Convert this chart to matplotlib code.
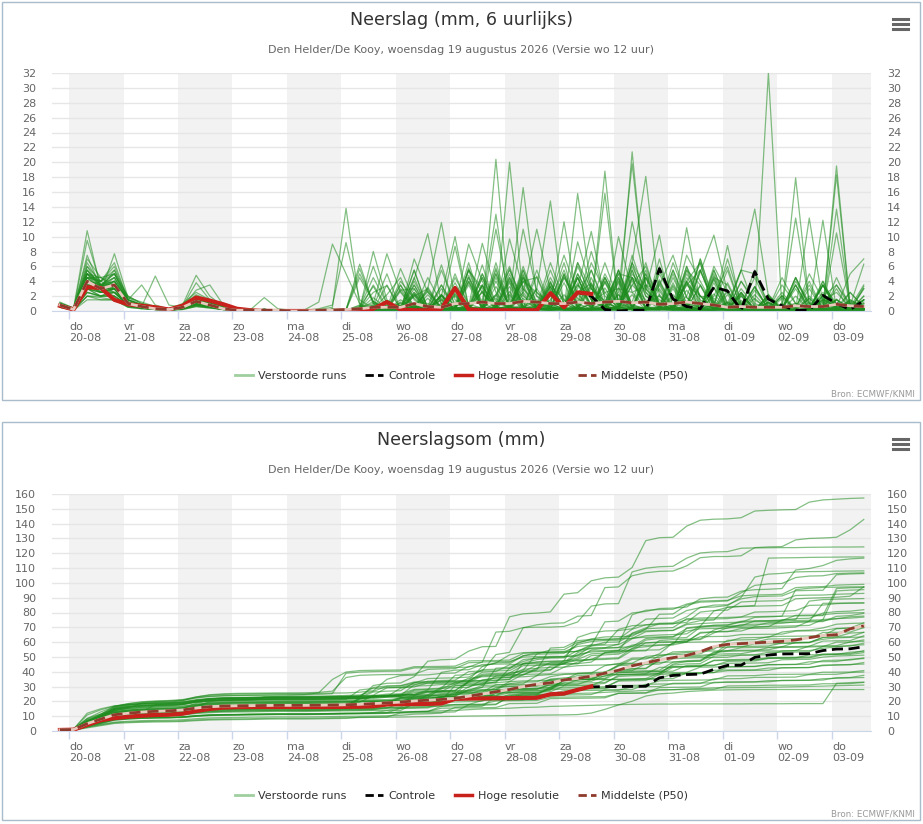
"""Pluim neerslag Den Helder/De Kooy: 6-uurlijkse neerslag en neerslagsom."""

import matplotlib

matplotlib.use("Agg")
import matplotlib.pyplot as plt
import numpy as np
from matplotlib.lines import Line2D
from matplotlib.patches import Rectangle

# time axis: first value 19-08 20:00 local, 6-hourly, 60 steps (+6h .. +360h)
FIRST_HOUR = -4
STEP_HOURS = 6

DAY_NAMES = ["do", "vr", "za", "zo", "ma", "di", "wo", "do",
             "vr", "za", "zo", "ma", "di", "wo", "do"]
DAY_DATES = ["20-08", "21-08", "22-08", "23-08", "24-08", "25-08", "26-08",
             "27-08", "28-08", "29-08", "30-08", "31-08", "01-09", "02-09",
             "03-09"]
SHADED_DAYS = [0, 2, 4, 6, 8, 10, 12, 14]

# perturbed members, 6-hourly precipitation (mm)
MEMBERS = [
    "1.0 0.3 5.0 3.5 4.0 1.5 0.8 0.5 0.3 0.8 2.0 1.2 0.5 0.2 0.2 0.1 0.1 0.0 0.0 0.1 0.1 0.2 0.3 8.0 1.5 0.2 4.3 10.4 1.0 0.3 5.5 3.0 0.2 20.0 2.0 0.5 0.8 12.0 1.0 8.0 2.0 0.5 6.5 18.1 2.0 0.3 7.5 4.0 0.7 0.2 0.8 4.5 0.5 0.3 0.2 5.0 1.5 0.5 0.5 0.3",
    "0.8 0.2 7.5 3.0 3.5 1.2 0.6 0.4 0.2 0.5 1.5 1.0 0.4 0.2 0.1 0.2 0.1 0.0 0.0 0.1 0.2 0.1 0.2 1.8 0.3 0.0 7.0 2.5 0.5 0.2 5.8 0.5 11.0 1.5 16.6 2.0 1.0 0.3 4.5 0.5 18.8 0.5 7.5 2.0 1.0 0.2 3.5 5.5 0.8 0.0 0.5 5.5 0.5 0.2 4.5 1.0 0.3 0.5 5.0 7.0",
    "1.2 0.4 4.5 4.5 5.0 2.0 1.0 0.6 0.3 1.0 2.5 1.5 0.6 0.3 0.1 0.1 0.1 0.0 0.1 0.3 0.8 9.2 1.5 0.3 0.2 0.0 0.3 3.2 0.3 0.2 4.0 0.3 20.4 0.5 2.5 0.3 0.0 0.5 3.0 10.7 1.5 0.2 21.4 2.5 1.0 0.3 5.5 3.5 0.7 0.2 2.3 0.2 0.1 0.1 0.0 0.2 0.1 0.1 0.0 0.1",
    "0.6 0.2 3.0 2.5 2.5 0.8 0.5 0.3 0.2 0.4 1.2 0.8 0.3 0.1 0.2 0.1 0.1 0.0 0.0 0.1 0.1 0.2 0.0 0.3 1.4 0.2 5.5 0.3 1.5 0.2 4.5 1.3 13.0 0.5 4.0 2.5 0.5 0.3 0.7 6.5 2.5 0.2 5.0 2.5 0.3 0.1 4.5 2.0 0.4 8.8 0.5 0.5 32.0 0.2 0.1 0.2 0.1 0.1 0.1 0.0",
    "0.9 0.3 6.0 4.0 5.5 1.8 1.2 0.6 0.3 0.6 1.8 1.2 0.5 0.2 0.1 0.2 0.1 0.0 0.0 0.1 0.2 0.1 0.5 1.0 7.7 2.5 0.3 0.2 1.0 0.2 4.5 0.3 2.0 5.5 1.5 0.3 0.2 0.2 3.5 0.8 15.8 0.5 5.5 1.0 2.0 0.3 0.7 5.5 1.0 0.2 4.0 1.0 0.3 0.5 12.5 1.0 2.0 3.5 1.0 0.5",
    "0.7 0.2 4.0 3.0 3.0 1.0 0.5 0.4 0.2 0.5 1.5 1.0 0.4 0.2 0.2 0.1 0.1 0.0 0.0 0.1 0.1 0.2 0.1 0.3 1.4 0.2 4.0 0.6 0.2 0.5 9.0 4.0 0.5 0.3 2.5 11.0 2.7 0.2 5.0 1.5 0.3 0.5 6.5 3.0 1.0 0.3 4.0 6.5 0.2 1.0 5.5 13.7 2.0 0.5 1.0 0.2 0.1 0.2 0.1 0.1",
    "1.0 0.3 9.5 3.5 2.5 1.0 0.6 0.3 0.2 0.6 1.2 0.8 0.3 0.1 0.1 0.2 0.1 0.0 0.0 0.1 0.2 0.1 0.0 0.2 1.3 0.2 0.3 3.0 11.9 1.5 0.3 3.5 0.2 0.2 5.5 1.0 0.3 0.3 6.0 2.0 0.7 0.2 4.5 2.8 10.2 0.2 6.0 2.0 0.3 0.5 5.5 5.0 1.0 0.3 4.0 1.0 0.2 1.5 0.3 0.2",
    "0.8 0.3 3.5 4.0 6.5 1.5 0.8 0.5 0.3 0.3 1.0 0.7 0.3 0.1 0.2 0.1 0.1 0.0 0.0 0.1 0.1 0.2 6.3 1.0 0.5 0.2 0.3 2.8 0.2 0.3 0.5 6.2 0.5 4.5 0.5 1.5 0.5 0.2 15.8 3.0 1.3 0.3 1.2 6.5 0.5 0.3 5.0 2.0 1.7 0.2 4.0 1.5 0.3 0.2 3.5 0.2 0.1 10.5 0.5 0.3",
    "0.6 0.2 2.5 2.0 2.0 0.8 0.5 0.3 0.1 0.4 0.8 0.6 0.2 0.1 0.1 0.2 0.1 0.0 0.0 0.1 0.2 0.1 0.0 0.5 1.3 0.2 4.5 0.3 2.0 10.0 0.5 0.2 5.8 0.5 4.0 0.5 4.0 0.2 6.5 3.0 0.3 2.5 19.8 3.0 0.5 0.2 3.5 2.0 0.3 0.2 3.0 0.6 0.2 0.3 4.5 0.5 0.2 1.0 0.3 0.2",
    "0.9 0.3 5.5 3.5 4.5 1.2 0.7 0.4 0.2 0.8 2.2 1.4 0.6 0.2 0.2 0.1 0.1 0.0 0.0 0.1 0.1 0.2 0.5 0.5 5.0 0.2 2.3 0.3 0.2 0.1 0.4 4.5 0.5 0.3 0.2 3.0 14.8 0.5 4.5 0.8 0.2 0.2 0.3 4.5 0.5 0.3 4.0 0.7 0.5 0.2 0.3 3.2 0.3 0.5 17.9 1.0 0.5 0.2 0.2 0.1",
    "0.7 0.2 4.5 3.0 3.5 1.0 0.6 0.3 0.2 0.4 1.0 0.8 0.3 0.1 0.1 0.2 0.1 0.0 0.0 0.1 0.2 0.1 0.2 1.3 0.2 3.5 0.2 1.0 0.3 0.2 5.5 2.5 0.3 9.7 3.0 1.0 0.5 0.3 2.2 5.5 1.0 0.5 6.0 2.0 0.5 0.3 0.5 5.2 10.2 2.5 0.5 0.3 0.2 0.2 4.5 0.5 0.3 0.3 0.7 6.3",
    "1.1 0.4 5.0 4.5 3.0 1.5 3.5 0.8 0.3 0.6 1.6 1.0 0.4 0.2 0.2 0.1 0.1 0.1 0.2 1.2 9.0 5.0 1.0 0.2 0.1 0.1 2.2 0.1 0.1 0.2 3.5 0.2 0.1 0.3 4.5 0.5 0.2 0.2 0.5 4.5 0.3 10.0 2.5 0.5 0.5 0.2 2.8 0.3 0.2 0.3 1.0 0.3 0.2 0.1 0.2 0.1 0.1 18.3 0.5 0.2",
    "0.8 0.2 3.0 3.5 5.0 1.2 0.6 0.3 0.2 0.5 1.4 0.9 0.4 0.1 0.2 0.1 0.1 0.0 0.0 0.1 0.1 0.2 0.5 4.5 1.0 0.2 3.0 0.3 0.5 8.7 0.5 2.5 0.0 0.2 4.5 0.2 0.1 0.3 2.5 3.7 0.5 0.2 4.5 0.5 0.3 0.3 11.2 1.2 0.5 0.2 2.0 0.2 0.1 0.3 0.5 0.2 0.3 19.5 0.5 0.3",
    "0.6 0.2 5.0 2.5 3.0 0.8 0.5 0.3 0.2 0.3 0.9 0.6 0.3 0.1 0.1 0.2 0.1 0.0 0.0 0.1 0.2 0.1 5.7 1.0 0.5 0.2 0.5 2.6 0.2 0.3 6.5 0.5 1.7 0.2 4.0 4.5 0.3 0.5 6.5 1.5 0.5 0.3 12.0 3.5 2.7 0.2 0.8 7.0 1.0 0.3 5.5 0.5 0.2 0.2 3.5 0.2 0.1 0.5 0.3 0.3",
    "0.9 0.3 10.8 3.0 2.0 0.8 0.5 0.4 0.2 0.5 1.2 0.8 0.3 0.1 0.2 0.1 0.1 0.0 0.0 0.1 0.1 0.2 0.2 3.5 0.6 0.3 5.5 0.2 0.5 0.3 0.7 9.1 2.5 0.3 4.5 2.0 0.2 0.2 0.5 3.8 0.5 0.3 4.5 0.5 0.2 0.2 5.5 1.0 0.3 0.1 0.4 3.3 0.2 0.5 0.2 12.5 1.0 0.3 0.2 0.2",
    "0.7 0.2 3.5 3.0 4.0 1.0 0.6 4.7 0.8 0.5 1.0 0.7 0.3 0.1 0.1 0.2 0.1 0.0 0.0 0.1 0.2 0.1 0.2 0.8 0.3 0.2 3.5 0.1 0.2 0.3 5.5 0.2 1.0 0.5 11.0 2.5 1.0 0.2 5.0 1.5 0.3 0.2 0.5 5.5 0.8 0.3 4.0 1.5 0.2 0.2 2.5 0.2 0.1 0.5 1.0 0.3 12.2 0.1 0.1 0.0",
    "0.8 0.3 4.0 3.5 3.5 1.2 0.6 0.3 0.2 0.6 3.8 1.5 0.5 0.2 0.2 1.8 0.3 0.1 0.0 0.1 0.2 0.3 0.3 2.5 3.4 0.2 2.0 3.0 0.3 0.2 0.5 5.0 0.3 0.5 6.0 1.0 0.5 0.2 9.3 3.0 1.3 0.2 0.3 5.0 0.5 0.3 6.0 0.5 0.2 0.2 0.3 3.3 0.2 0.3 0.5 3.5 0.2 1.0 0.3 0.2",
    "0.5 0.2 2.0 1.8 1.5 0.6 0.4 0.2 0.1 0.3 0.7 0.5 0.2 0.1 0.2 0.1 0.1 0.0 0.0 0.1 0.1 0.2 0.1 0.1 0.2 0.3 0.8 0.2 0.5 3.8 0.5 0.3 6.5 0.5 1.7 0.2 2.0 7.5 2.3 0.3 1.2 5.0 4.5 0.2 3.5 7.5 1.8 0.3 4.5 3.5 0.2 0.2 0.3 4.5 1.0 0.2 3.5 1.0 0.3 1.0",
    "1.0 0.3 6.0 3.0 4.5 1.5 0.8 0.4 0.3 0.7 1.8 1.1 0.5 0.2 0.1 0.2 0.1 0.0 0.0 0.1 0.2 0.1 0.5 6.0 1.0 0.2 2.5 0.2 0.1 0.2 0.3 4.5 0.5 0.2 5.0 0.3 0.5 0.2 0.3 5.5 0.5 0.5 3.5 6.0 1.0 0.2 0.5 7.0 1.3 0.2 2.5 0.2 0.1 0.2 3.5 0.2 0.1 1.0 0.3 0.2",
    "0.7 0.2 4.5 4.0 3.0 1.0 0.5 0.3 0.2 0.4 1.0 0.7 0.3 0.1 0.2 0.1 0.1 0.0 0.0 0.1 0.1 0.2 0.1 0.1 0.3 4.0 1.7 0.2 5.5 0.8 0.5 0.3 2.2 6.0 0.5 0.2 1.0 6.5 0.3 0.3 4.5 0.9 0.3 0.2 7.0 0.6 0.2 0.3 6.0 2.5 0.2 0.2 2.0 0.2 0.1 0.2 0.3 3.5 0.5 1.5",
    "0.8 0.3 3.0 2.5 7.7 1.8 0.8 0.4 0.2 0.5 1.5 1.0 0.4 0.2 0.1 0.2 0.1 0.0 0.0 0.1 0.2 0.1 0.2 0.8 0.3 5.7 1.5 0.2 0.8 0.2 4.0 1.0 0.3 0.3 0.5 4.7 0.5 0.2 3.5 2.0 0.3 0.5 6.5 1.0 1.0 0.2 2.0 6.5 0.3 0.1 2.2 0.1 0.1 0.3 0.5 4.0 0.2 1.5 0.3 0.7",
    "0.6 0.2 3.5 2.5 2.5 0.8 0.5 0.3 0.2 0.4 1.2 0.8 0.3 0.1 0.2 0.1 0.1 0.0 0.0 0.1 0.1 0.2 0.1 0.3 2.2 4.5 0.3 0.5 6.2 0.5 0.2 5.0 1.3 0.5 0.3 0.7 6.5 1.5 0.2 1.0 6.5 1.3 0.2 5.0 0.6 0.2 0.2 5.5 1.0 0.3 0.2 2.8 0.4 0.1 0.2 0.3 4.0 0.5 1.3 0.5",
    "0.9 0.3 5.0 4.0 5.0 1.5 0.7 0.4 0.2 0.6 2.0 1.2 0.5 0.2 0.1 0.2 0.1 0.0 0.0 0.1 0.2 0.1 0.1 0.1 0.1 0.7 0.2 0.2 2.0 0.2 0.1 0.3 0.5 4.2 1.0 0.2 3.5 1.5 0.3 0.2 0.5 5.5 0.8 0.3 5.0 1.5 0.7 0.2 2.0 6.0 0.3 0.2 2.0 0.2 0.1 0.2 0.3 4.5 0.5 3.5",
    "0.7 0.2 4.0 3.0 3.5 1.0 0.6 0.3 0.2 0.5 1.2 0.9 0.3 0.1 0.2 0.1 0.1 0.0 0.0 0.1 0.1 0.2 5.0 1.3 0.2 0.3 3.5 0.5 0.2 4.5 1.0 0.3 0.3 0.5 5.5 0.7 0.3 4.5 1.7 0.5 0.2 0.5 5.5 0.3 0.2 4.5 0.6 0.2 0.1 0.2 2.5 0.2 0.2 3.5 1.0 0.3 1.5 2.5 0.5 0.3",
    "0.8 0.3 2.5 2.0 3.0 0.8 0.5 0.3 0.2 0.4 1.0 0.6 0.3 0.1 0.1 0.2 0.1 0.0 0.0 0.1 0.2 0.1 0.1 0.1 0.2 1.5 0.3 0.3 3.0 0.5 0.2 0.3 5.5 0.5 0.7 0.2 1.5 5.5 0.8 0.3 0.5 5.5 0.7 0.2 6.0 1.5 1.3 0.3 0.7 7.0 1.0 0.1 2.2 0.1 0.1 0.2 4.0 0.1 0.2 3.0",
    "1.0 0.4 7.0 4.5 3.5 2.0 1.0 0.5 0.3 0.7 1.6 1.0 0.4 0.2 0.1 0.1 0.1 0.0 0.1 0.2 0.5 13.8 0.8 0.3 0.2 0.1 2.2 0.1 0.1 0.1 0.2 3.5 0.2 0.1 3.0 0.3 0.1 0.1 0.2 3.5 0.2 0.2 3.5 1.5 0.3 0.1 0.3 3.4 0.2 0.1 1.2 0.1 0.1 0.1 2.0 0.2 0.2 1.5 0.3 0.2",
    "0.7 0.2 3.5 3.0 2.5 0.8 0.5 0.3 0.2 0.8 4.8 2.0 0.6 0.2 0.2 0.1 0.1 0.0 0.0 0.1 0.1 0.2 0.1 0.1 0.1 0.7 0.2 0.2 0.3 2.3 0.2 0.2 4.0 0.6 0.2 0.3 4.5 1.0 0.2 0.2 0.5 4.5 0.8 0.3 5.5 1.5 0.7 0.2 1.0 5.5 0.3 0.1 0.2 2.0 0.2 0.2 3.5 0.2 0.1 3.0",
    "0.6 0.2 4.5 2.5 3.0 0.8 0.4 0.3 0.1 0.4 0.9 0.6 0.3 0.1 0.1 0.2 0.1 0.0 0.0 0.1 0.2 0.1 0.1 0.2 3.5 0.3 0.2 4.5 1.0 0.3 0.2 0.5 5.0 0.3 0.3 5.5 0.7 0.5 0.2 0.3 5.0 1.5 0.2 4.5 1.0 0.3 0.2 0.3 4.3 0.2 0.1 2.2 0.1 0.1 0.2 0.3 3.5 0.5 2.5 0.5",
    "0.9 0.3 5.5 3.5 3.0 1.0 0.6 0.3 0.2 0.6 1.5 1.0 0.4 0.2 0.2 0.1 0.1 0.0 0.0 0.1 0.1 0.2 0.1 0.1 0.1 0.2 0.7 0.1 2.0 0.3 0.1 0.2 0.5 4.0 0.3 0.3 0.2 5.0 0.5 0.2 4.5 1.0 0.3 0.2 0.3 5.5 1.0 0.3 5.5 0.9 0.3 0.1 0.2 2.1 0.1 0.2 3.5 0.2 0.1 3.3",
    "0.8 0.3 3.0 3.0 4.0 1.2 0.6 0.3 0.2 0.5 1.3 0.8 0.3 0.1 0.1 0.2 0.1 0.0 0.0 0.1 0.2 0.1 4.5 1.2 0.2 0.3 2.5 0.5 0.2 5.0 0.5 0.3 0.2 0.8 4.8 0.2 0.2 4.5 1.0 0.3 0.2 0.5 4.1 0.2 0.2 3.8 0.3 0.2 0.1 0.2 2.0 0.2 0.2 0.3 3.0 0.0 2.0 1.0 0.3 0.3",
    "0.7 0.2 2.0 2.0 2.5 0.7 0.4 0.2 0.1 0.3 0.8 0.5 0.2 0.1 0.2 0.1 0.1 0.0 0.0 0.1 0.1 0.2 0.1 0.1 0.2 1.0 0.1 0.2 3.5 0.2 0.1 0.3 0.5 5.7 0.5 0.3 5.5 1.0 0.2 0.2 1.0 5.5 0.3 0.2 0.5 6.5 1.8 0.3 5.5 1.0 0.2 0.1 2.2 0.1 0.1 0.2 0.3 3.0 0.0 1.5",
    "1.0 0.3 6.5 3.5 5.0 1.5 0.8 0.4 0.2 0.6 1.4 0.9 0.4 0.2 0.1 0.2 0.1 0.0 0.0 0.1 0.2 0.1 0.1 0.1 0.2 0.7 0.1 2.2 0.1 0.1 0.2 3.5 0.2 0.1 0.2 0.3 3.3 0.2 0.2 0.3 4.5 0.5 0.2 4.5 1.0 0.3 0.2 0.3 4.7 0.3 0.1 1.7 0.1 0.1 0.2 3.0 0.2 0.1 2.5 0.5",
    "0.7 0.2 4.0 3.5 3.0 1.0 0.5 0.3 0.2 0.5 1.2 0.8 0.3 0.1 0.2 0.1 0.1 0.0 0.0 0.1 0.1 0.2 0.1 0.1 0.2 1.1 0.2 0.1 0.3 2.5 0.1 0.2 4.5 0.5 0.3 0.2 0.3 5.0 0.5 0.2 4.0 0.6 0.2 0.2 0.5 5.5 0.8 0.2 5.0 0.6 0.2 0.1 1.7 0.1 0.1 0.2 3.5 0.2 0.1 2.0",
    "0.8 0.3 3.5 2.5 3.5 0.8 0.5 0.3 0.2 0.4 1.0 0.7 0.3 0.1 0.1 0.2 0.1 0.0 0.0 0.1 0.2 0.1 0.5 3.3 0.2 3.0 0.3 0.0 0.2 0.5 3.8 0.5 0.3 5.0 0.5 0.2 0.2 0.3 4.5 0.5 0.2 4.5 0.3 0.5 0.2 3.5 0.5 0.3 0.1 0.2 1.4 0.1 0.2 2.5 0.2 0.1 1.5 1.0 1.0 0.4",
    "0.6 0.2 5.0 3.0 4.0 1.2 0.6 0.3 0.2 0.5 1.6 1.0 0.4 0.2 0.2 0.1 0.1 0.0 0.0 0.1 0.1 0.2 0.1 0.1 0.1 0.7 0.2 0.1 2.2 0.1 0.1 0.2 0.3 3.8 0.2 0.2 3.8 0.3 0.2 0.2 0.3 4.0 0.5 0.2 0.5 5.0 0.3 0.2 4.3 0.3 0.2 0.1 1.2 0.1 0.1 0.2 2.0 0.2 0.1 2.0",
    "0.9 0.3 4.5 4.0 6.0 1.5 0.8 0.4 0.2 0.6 1.5 1.0 0.4 0.2 0.1 0.2 0.1 0.0 0.0 0.1 0.2 0.1 0.1 0.1 0.2 0.7 0.1 1.7 0.1 0.1 0.2 3.3 0.3 0.2 0.2 0.3 3.3 0.2 0.2 3.5 0.2 0.1 0.2 0.3 4.2 0.3 0.2 0.3 3.8 0.2 0.1 0.2 1.1 0.1 0.2 2.0 0.2 0.1 1.5 0.5",
    "0.7 0.2 3.0 2.0 2.0 0.7 0.4 0.2 0.1 0.3 0.8 0.5 0.2 0.1 0.2 0.1 0.1 0.0 0.0 0.1 0.1 0.2 0.1 0.1 0.2 2.8 3.0 0.2 3.5 0.5 0.3 0.2 5.0 0.5 0.3 0.2 0.5 4.8 0.5 0.2 4.0 0.6 0.2 0.2 0.3 3.3 0.2 0.2 0.3 2.8 0.2 0.1 1.7 0.1 0.1 0.2 2.0 0.2 0.1 1.2",
    "0.8 0.3 5.5 3.0 3.5 1.0 0.6 0.3 0.2 0.5 1.3 0.8 0.3 0.1 0.1 0.2 0.1 0.0 0.0 0.1 0.2 0.1 0.7 0.2 0.1 0.2 2.0 0.2 0.2 3.3 0.3 0.2 0.1 0.3 3.4 0.2 0.2 0.3 3.8 0.2 0.2 4.2 0.4 0.2 0.2 0.3 3.8 0.2 0.1 1.2 0.1 0.1 0.2 2.0 0.2 0.1 1.5 0.7 0.3 0.3",
    "0.6 0.2 3.0 3.5 4.5 1.0 0.5 0.3 0.2 0.4 1.1 0.7 0.3 0.1 0.2 0.1 0.1 0.0 0.0 0.1 0.1 0.2 0.1 0.1 0.1 0.8 0.1 0.1 2.2 0.1 0.1 0.2 0.3 3.3 0.2 0.2 3.8 0.3 0.2 0.2 0.3 3.8 0.2 0.2 4.0 0.6 0.2 0.2 0.3 3.8 0.2 0.1 1.2 0.1 0.1 0.2 2.5 0.2 0.1 1.5",
    "0.9 0.3 4.0 3.0 3.0 0.8 0.5 0.3 0.2 0.6 2.8 3.5 0.8 0.3 0.1 0.2 0.1 0.0 0.0 0.1 0.2 0.1 0.1 0.1 0.8 0.1 0.1 0.2 1.5 0.2 0.1 2.6 0.2 0.1 0.2 0.2 2.9 0.2 0.1 3.1 0.2 0.1 0.2 0.3 3.8 0.2 0.2 3.5 0.1 0.2 0.1 0.2 1.1 0.1 0.1 1.7 0.1 0.1 1.5 0.5",
    "0.7 0.2 3.5 2.5 3.0 0.8 0.5 0.3 0.2 0.4 1.0 0.7 0.3 0.1 0.2 0.1 0.1 0.0 0.0 0.1 0.1 0.2 0.1 0.1 0.2 3.5 0.6 0.1 0.3 2.0 0.1 0.2 3.3 0.3 0.2 0.2 0.3 3.8 0.2 0.2 3.8 0.3 0.2 0.2 0.3 3.0 0.0 0.2 2.3 0.2 0.0 0.1 1.2 0.1 0.1 0.1 1.7 0.1 0.1 1.5",
    "0.5 0.1 1.5 1.5 1.5 0.5 0.3 0.2 0.1 0.2 0.6 0.4 0.2 0.1 0.1 0.2 0.1 0.0 0.0 0.1 0.2 0.1 0.8 0.1 0.1 2.7 0.1 0.1 0.2 0.3 4.8 0.2 0.3 4.5 0.5 0.2 0.2 0.5 4.5 0.3 0.2 5.0 0.5 0.3 0.2 0.3 3.8 0.2 0.1 1.2 0.1 0.1 0.1 1.7 0.1 0.1 1.2 0.5 0.3 0.3",
    "0.8 0.3 4.5 3.0 5.5 1.2 0.6 0.3 0.2 0.5 1.2 0.8 0.3 0.1 0.2 0.1 0.1 0.0 0.0 0.1 0.1 0.2 0.1 0.1 0.1 0.2 0.7 0.1 1.7 0.1 0.1 0.1 0.2 2.2 0.0 0.1 2.2 0.1 0.1 0.1 0.1 2.2 0.1 0.1 3.0 0.3 0.1 0.1 0.2 2.6 0.1 0.1 0.8 0.0 0.1 0.1 1.3 0.0 0.1 1.0",
    "0.7 0.2 3.0 2.5 3.0 0.8 0.4 0.3 0.1 0.4 1.0 0.6 0.3 0.1 0.1 0.2 0.1 0.0 0.0 0.1 0.2 0.1 0.1 0.1 0.8 0.1 0.1 0.2 2.1 0.1 0.1 2.7 0.1 0.1 0.2 3.0 0.2 0.1 0.1 0.2 3.1 0.1 0.2 3.5 0.2 0.1 0.1 0.2 3.1 0.1 0.1 0.8 0.0 0.1 0.1 1.7 0.1 0.1 1.2 0.3",
    "0.6 0.2 2.5 2.0 2.5 0.7 0.4 0.2 0.1 0.3 0.8 0.5 0.2 0.1 0.2 0.1 0.1 0.0 0.0 0.1 0.1 0.2 0.1 0.1 0.1 0.1 0.8 0.1 2.2 0.1 0.1 0.1 0.2 2.6 0.1 0.1 3.2 0.1 0.1 0.1 0.2 3.1 0.1 0.2 3.5 0.2 0.1 0.1 3.2 0.1 0.1 0.1 0.8 0.0 0.1 0.1 0.2 1.6 0.1 1.5",
    "0.8 0.3 4.0 3.5 3.5 1.0 0.5 0.3 0.2 0.5 1.2 0.8 0.3 0.1 0.1 0.2 0.1 0.0 0.0 0.1 0.2 0.1 0.5 0.1 0.1 1.2 0.1 0.1 0.1 2.2 0.1 0.1 0.1 0.1 2.2 0.1 0.1 2.2 0.1 0.1 0.1 0.1 2.2 0.1 0.1 2.2 0.1 0.1 0.1 0.5 0.0 0.1 0.1 1.0 0.0 0.1 1.0 0.3 0.3 0.2",
    "0.7 0.2 3.5 3.0 3.0 0.8 0.5 0.3 0.2 0.4 1.1 0.7 0.3 0.1 0.2 0.1 0.1 0.0 0.0 0.1 0.1 0.2 0.1 0.1 0.1 0.1 0.5 0.1 0.1 1.2 0.1 0.1 2.2 0.1 0.1 0.1 2.2 0.1 0.1 0.1 0.1 2.2 0.1 0.1 2.2 0.1 0.1 0.1 0.1 2.2 0.1 0.1 0.3 0.0 0.1 0.1 0.8 0.0 0.1 0.8",
    "0.5 0.2 3.0 2.0 2.0 0.6 0.4 0.2 0.1 0.3 0.7 0.5 0.2 0.1 0.1 0.2 0.1 0.0 0.0 0.1 0.2 0.1 0.2 0.3 0.2 0.3 0.5 0.2 0.3 0.3 0.5 0.5 0.2 0.3 0.5 0.2 0.5 0.2 0.3 0.2 0.3 0.2 0.2 0.1 0.1 0.0 0.1 0.0 0.0 0.0 0.0 0.1 0.0 0.0 0.1 0.0 0.0 13.7 0.5 0.3",
    "0.9 0.3 5.0 3.5 4.0 1.2 0.6 0.3 0.2 0.5 1.4 0.9 0.4 0.2 0.2 0.1 0.1 0.0 0.0 0.1 0.1 0.2 0.1 0.2 0.1 0.2 0.3 0.2 0.3 0.3 0.5 0.2 0.5 0.5 0.3 0.5 0.2 0.3 0.5 0.2 0.5 0.5 0.3 0.5 0.2 0.3 0.5 0.3 0.4 0.1 0.1 0.1 0.1 0.2 0.2 0.2 0.2 0.3 0.2 0.2",
    "0.5 0.1 2.0 1.5 1.5 0.5 0.3 0.2 0.1 0.2 0.6 0.4 0.2 0.1 0.1 0.2 0.1 0.0 0.0 0.1 0.2 0.1 0.1 0.1 0.1 0.1 0.2 0.1 0.1 0.1 0.2 0.1 0.1 0.1 0.1 0.2 0.1 0.1 0.2 1.0 2.5 3.0 2.5 3.5 1.5 0.5 1.0 0.5 0.5 0.2 0.1 0.1 0.0 0.0 0.0 0.0 0.0 0.0 0.0 0.0",
]

# high-resolution run (10 days, 40 steps)
HIRES = [0.7, 0.2, 3.2, 3.1, 1.5, 0.9, 0.7, 0.5, 0.2, 0.7, 1.8, 1.4, 0.9, 0.3,
         0.1, 0.0, 0.0, 0.0, 0.0, 0.0, 0.0, 0.1, 0.1, 0.3, 1.2, 0.2, 0.1, 0.1,
         0.3, 3.1, 0.2, 0.1, 0.1, 0.1, 0.1, 0.1, 2.4, 0.5, 2.5, 2.3]

# control run (15 days)
CONTROL = [0.7, 0.2, 3.2, 3.1, 1.5, 0.9, 0.7, 0.5, 0.2, 0.7, 1.8, 1.4, 0.9, 0.3,
           0.1, 0.0, 0.0, 0.0, 0.0, 0.0, 0.0, 0.1, 0.1, 0.3, 1.2, 0.2, 0.1, 0.1,
           0.3, 3.1, 0.2, 0.1, 0.1, 0.1, 0.1, 0.1, 2.4, 0.5, 2.5, 2.0, 0.2, 0.0,
           0.1, 0.1, 5.7, 1.6, 0.6, 0.3, 3.2, 2.7, 0.1, 5.3, 1.6, 0.7, 0.1, 0.1,
           2.1, 1.0, 0.2, 1.4]

# ensemble median of the 6-hourly amounts
P50_6H = [0.8, 0.2, 4.0, 3.0, 3.5, 1.0, 0.6, 0.3, 0.2, 0.5, 1.3, 0.8, 0.3, 0.1,
          0.1, 0.1, 0.1, 0.0, 0.0, 0.1, 0.1, 0.2, 0.3, 0.5, 0.5, 0.5, 1.0, 0.6,
          0.5, 1.0, 1.0, 1.2, 1.0, 1.0, 1.3, 1.2, 1.0, 1.0, 1.2, 1.0, 1.2, 1.3,
          1.1, 1.2, 0.9, 1.0, 1.2, 1.0, 0.8, 0.5, 0.6, 0.5, 0.5, 0.5, 0.7, 0.6,
          0.6, 0.9, 0.7, 0.6]

# ensemble median of the accumulated amounts
P50_SUM = [0.8, 1.0, 5.0, 8.0, 11.0, 12.0, 12.8, 13.3, 13.6, 14.2, 15.5, 16.4,
           16.8, 17.0, 17.1, 17.2, 17.3, 17.3, 17.3, 17.4, 17.5, 17.7, 18.0,
           18.5, 19.0, 19.5, 20.3, 20.8, 21.3, 22.0, 23.5, 25.0, 26.5, 28.0,
           30.0, 31.5, 32.5, 34.5, 35.5, 37.0, 39.0, 41.0, 44.0, 46.0, 48.0,
           49.5, 51.0, 53.5, 57.0, 58.5, 59.0, 59.5, 60.0, 60.5, 61.5, 63.0,
           64.5, 65.0, 69.0, 71.0]

TITLE_1 = "Neerslag (mm, 6 uurlijks)"
TITLE_2 = "Neerslagsom (mm)"
SUBTITLE = "Den Helder/De Kooy, woensdag 19 augustus 2026 (Versie wo 12 uur)"
LEGEND_LABELS = ["Verstoorde runs", "Controle", "Hoge resolutie", "Middelste (P50)"]
SOURCE = "Bron: ECMWF/KNMI"

W, H = 923, 824
MEMBER_COLOR = "#1e8c1e"
RED = "#c8211b"
BROWN = "#8e3a2c"


def fx(px):
    return px / W


def fy(py):
    return 1 - py / H


def step_days(n):
    return (FIRST_HOUR + STEP_HOURS * np.arange(n)) / 24.0


def style_axes(ax, ymax, ystep):
    ax.set_xlim(-0.312, 14.716)
    ax.set_ylim(0, ymax)
    for d in SHADED_DAYS:
        ax.axvspan(d, d + 1, color="#f2f2f2", lw=0, zorder=0)
    ax.set_yticks(np.arange(0, ymax + 1, ystep))
    ax.yaxis.grid(True, color="#e6e6e6", lw=1)
    ax.set_axisbelow(True)
    ax.tick_params(axis="y", length=0, pad=11.5, labelsize=8,
                   labelcolor="#666666", labelright=True)
    ax.set_xticks(np.arange(len(DAY_NAMES)))
    ax.set_xticklabels([f"{n}\n{d}" for n, d in zip(DAY_NAMES, DAY_DATES)],
                       ha="left", multialignment="left")
    ax.tick_params(axis="x", length=6, width=1, color="#ccd6eb", pad=1.8,
                   labelsize=8, labelcolor="#666666")
    for side in ("top", "left", "right"):
        ax.spines[side].set_visible(False)
    ax.spines["bottom"].set_color("#ccd6eb")


def draw_series(ax, members, control, hires, p50):
    x = step_days(members.shape[1])
    for m in members:
        ax.plot(x, m, color=MEMBER_COLOR, alpha=0.55, lw=0.9, zorder=2)
    ax.plot(step_days(len(control)), control, color="black", lw=2,
            dashes=(4, 2), zorder=3)
    ax.plot(step_days(len(hires)), hires, color=RED, lw=3,
            solid_joinstyle="round", zorder=4)
    ax.plot(step_days(len(p50)), p50, color="#e9c9bd", lw=2, zorder=5)
    ax.plot(step_days(len(p50)), p50, color=BROWN, lw=2, dashes=(4, 2.5),
            zorder=6)


def decorate(fig, top_px, title):
    fig.patches.append(Rectangle((fx(2), fy(top_px + 398)), fx(918), 398 / H,
                                 transform=fig.transFigure, fill=False,
                                 ec="#a9bccb", lw=1))
    fig.text(0.5, fy(top_px + 18), title, ha="center", va="center",
             fontsize=12.6, color="#333333")
    fig.text(0.5, fy(top_px + 48), SUBTITLE, ha="center", va="center",
             fontsize=8, color="#666666")
    fig.text(fx(915), fy(top_px + 392), SOURCE, ha="right", va="center",
             fontsize=6.3, color="#999999")
    for dy in (17, 22, 27):
        fig.add_artist(Line2D([fx(893), fx(908)], [fy(top_px + dy)] * 2,
                              color="#666666", lw=2.2,
                              transform=fig.transFigure))
    handles = [
        Line2D([], [], color="#9fcf9f", lw=2),
        Line2D([], [], color="black", lw=2, dashes=(3, 1.5)),
        Line2D([], [], color=RED, lw=2.5),
        Line2D([], [], color=BROWN, lw=2, dashes=(3, 1.5)),
    ]
    fig.legend(handles, LEGEND_LABELS, loc="center", ncol=4, frameon=False,
               bbox_to_anchor=(0.5, fy(top_px + 374)), fontsize=8,
               handlelength=1.6, handletextpad=0.5, columnspacing=1.7,
               labelcolor="#333333")


def main():
    members = np.array([[float(v) for v in s.split()] for s in MEMBERS])
    assert members.shape == (50, 60), members.shape

    fig = plt.figure(figsize=(W / 100, H / 100), dpi=100)

    ax1 = fig.add_axes([fx(52), fy(311), fx(819), (311 - 73) / H])
    style_axes(ax1, 32, 2)
    draw_series(ax1, members, CONTROL, HIRES, P50_6H)
    decorate(fig, 2, TITLE_1)

    ax2 = fig.add_axes([fx(52), fy(731), fx(819), (731 - 494) / H])
    style_axes(ax2, 160, 10)
    draw_series(ax2, np.cumsum(members, axis=1), np.cumsum(CONTROL),
                np.cumsum(HIRES), P50_SUM)
    decorate(fig, 422, TITLE_2)

    fig.savefig("out.png", dpi=100)


if __name__ == "__main__":
    main()
